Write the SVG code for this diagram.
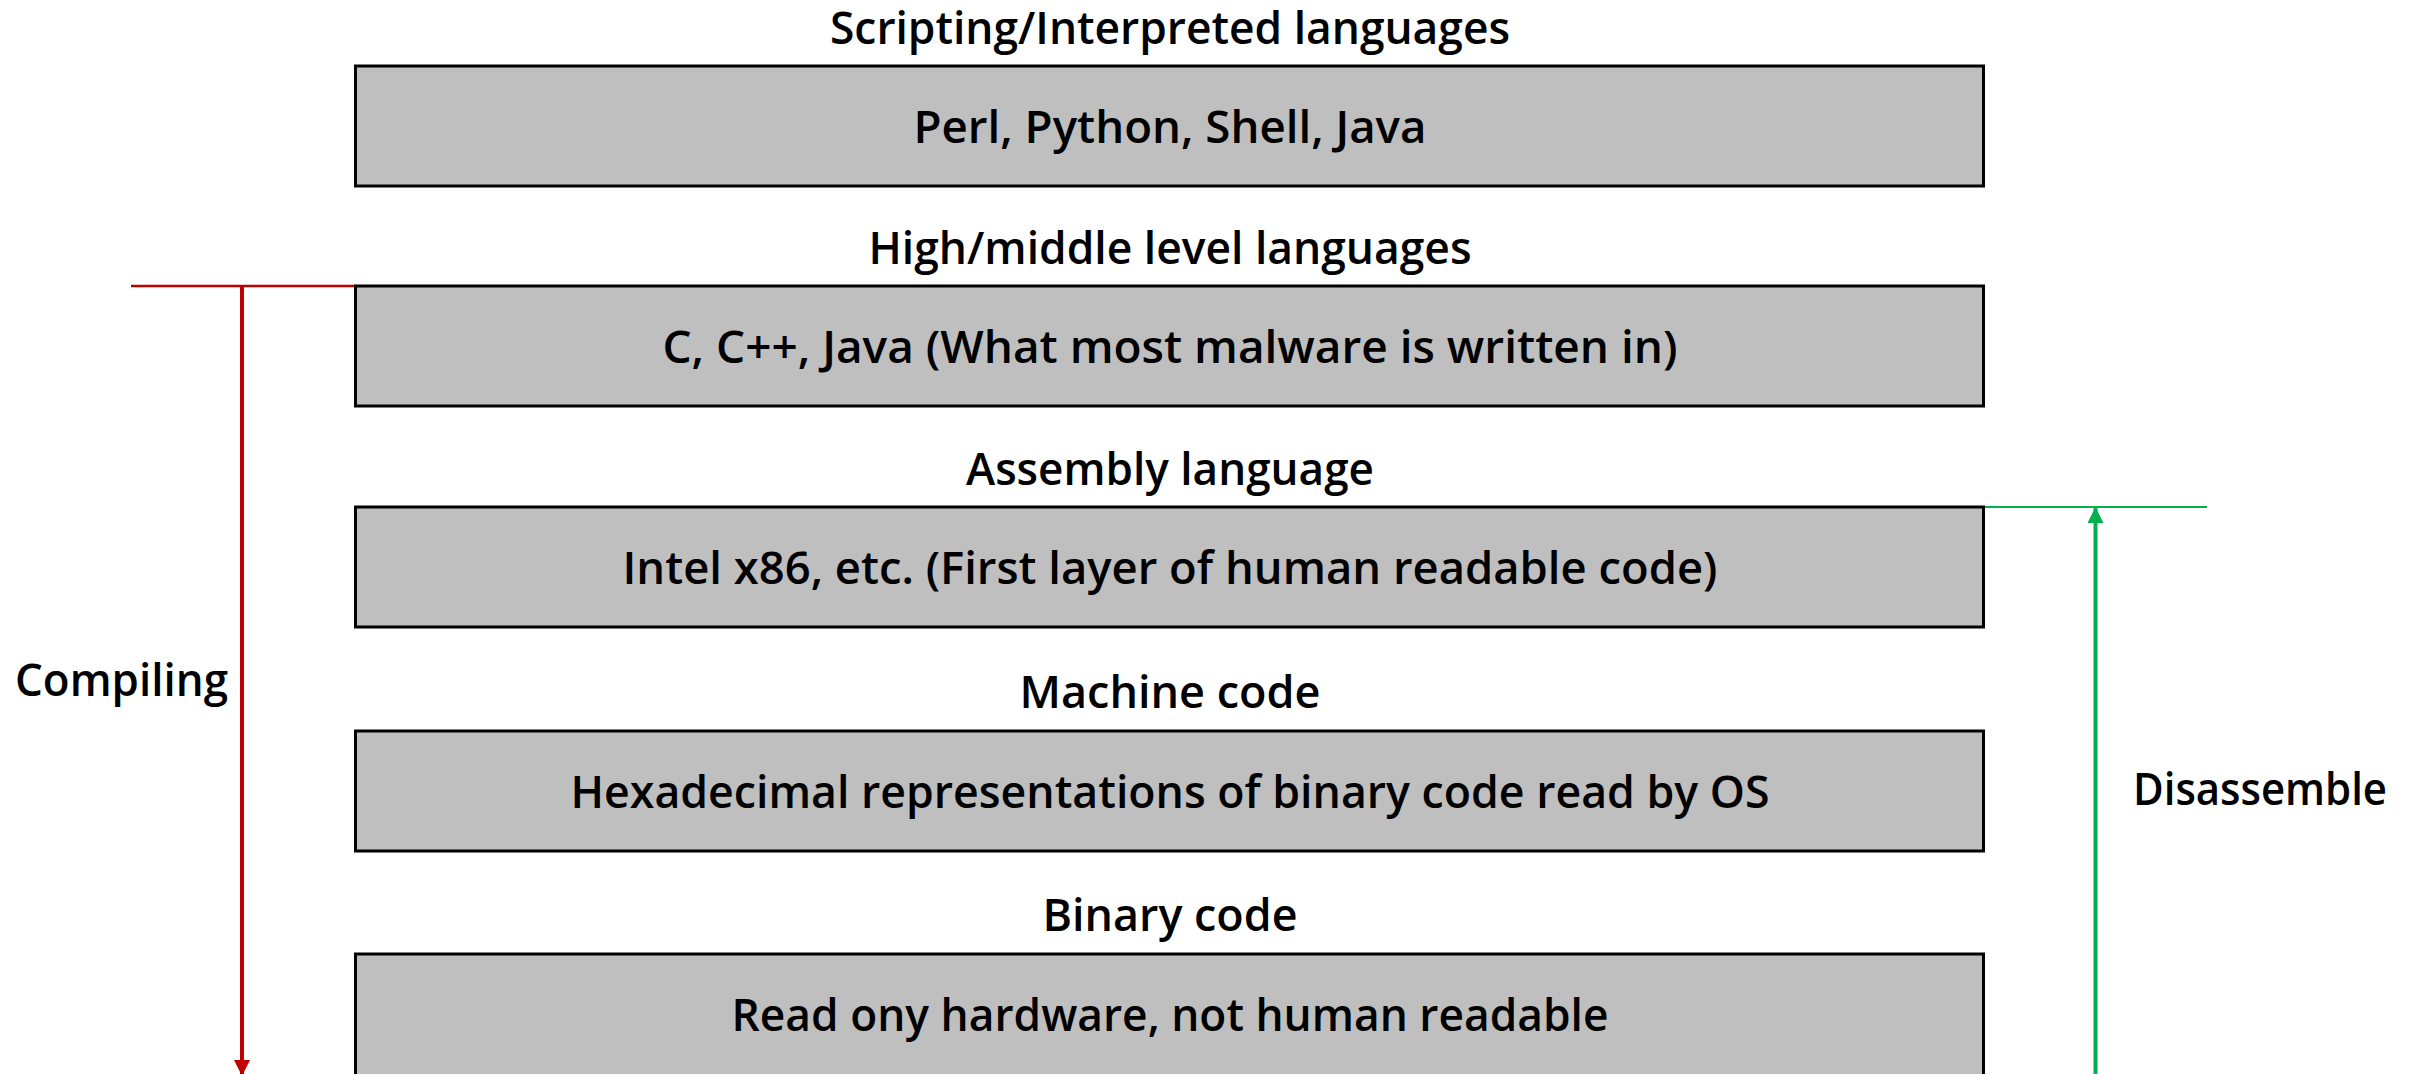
<svg xmlns="http://www.w3.org/2000/svg" width="2418" height="1074" viewBox="0 0 2418 1074">
  <defs>
    <style>
      .layer { fill: #BFBFBF; stroke: #000000; stroke-width: 3; }
      .txt { font-family: "Open Sans", "Noto Sans", "Liberation Sans", sans-serif; font-weight: 600; font-size: 46px; fill: #000000; text-anchor: middle; }
      .side { text-anchor: start; }
      .red { stroke: #C00000; fill: none; }
      .green { stroke: #00B050; fill: none; }
    </style>
    <marker id="arrowRed" viewBox="0 0 16 16" refX="15" refY="8" markerWidth="16" markerHeight="16" markerUnits="userSpaceOnUse" orient="auto">
      <path d="M0,0 L16,8 L0,16 Z" fill="#C00000"/>
    </marker>
    <marker id="arrowGreen" viewBox="0 0 16 16" refX="15" refY="8" markerWidth="16" markerHeight="16" markerUnits="userSpaceOnUse" orient="auto">
      <path d="M0,0 L16,8 L0,16 Z" fill="#00B050"/>
    </marker>
  </defs>
  <rect width="2418" height="1074" fill="#FFFFFF"/>

  <!-- Connectors: compile direction (down) and disassemble direction (up) -->
  <g id="connectors">
    <line class="red" x1="131" y1="286" x2="355" y2="286" stroke-width="2.5"/>
    <line class="red" x1="242" y1="287" x2="242" y2="1075" stroke-width="4" marker-end="url(#arrowRed)"/>
    <line class="green" x1="1984" y1="507" x2="2207" y2="507" stroke-width="1.8"/>
    <line class="green" x1="2095.5" y1="1080" x2="2095.5" y2="508" stroke-width="4" marker-end="url(#arrowGreen)"/>
  </g>

  <g id="layer-scripting">
    <text class="txt" x="1170" y="44" textLength="680" lengthAdjust="spacingAndGlyphs">Scripting/Interpreted languages</text>
    <rect class="layer" x="355.5" y="66" width="1628" height="120"/>
    <text class="txt" x="1170" y="143" textLength="513" lengthAdjust="spacingAndGlyphs">Perl, Python, Shell, Java</text>
  </g>

  <g id="layer-high-level">
    <text class="txt" x="1170" y="264" textLength="603" lengthAdjust="spacingAndGlyphs">High/middle level languages</text>
    <rect class="layer" x="355.5" y="286" width="1628" height="120"/>
    <text class="txt" x="1170" y="363" textLength="1015" lengthAdjust="spacingAndGlyphs">C, C++, Java (What most malware is written in)</text>
  </g>

  <g id="layer-assembly">
    <text class="txt" x="1170" y="485" textLength="408" lengthAdjust="spacingAndGlyphs">Assembly language</text>
    <rect class="layer" x="355.5" y="507" width="1628" height="120"/>
    <text class="txt" x="1170" y="584" textLength="1095" lengthAdjust="spacingAndGlyphs">Intel x86, etc. (First layer of human readable code)</text>
  </g>

  <g id="layer-machine">
    <text class="txt" x="1170" y="708" textLength="301" lengthAdjust="spacingAndGlyphs">Machine code</text>
    <rect class="layer" x="355.5" y="731" width="1628" height="120"/>
    <text class="txt" x="1170" y="808" textLength="1199" lengthAdjust="spacingAndGlyphs">Hexadecimal representations of binary code read by OS</text>
  </g>

  <g id="layer-binary">
    <text class="txt" x="1170" y="931" textLength="255" lengthAdjust="spacingAndGlyphs">Binary code</text>
    <rect class="layer" x="355.5" y="954" width="1628" height="124"/>
    <text class="txt" x="1170" y="1031" textLength="877" lengthAdjust="spacingAndGlyphs">Read ony hardware, not human readable</text>
  </g>

  <g id="label-compiling">
    <text class="txt side" x="15" y="696" textLength="213" lengthAdjust="spacingAndGlyphs">Compiling</text>
  </g>
  <g id="label-disassemble">
    <text class="txt side" x="2133" y="805" textLength="254" lengthAdjust="spacingAndGlyphs">Disassemble</text>
  </g>
</svg>
